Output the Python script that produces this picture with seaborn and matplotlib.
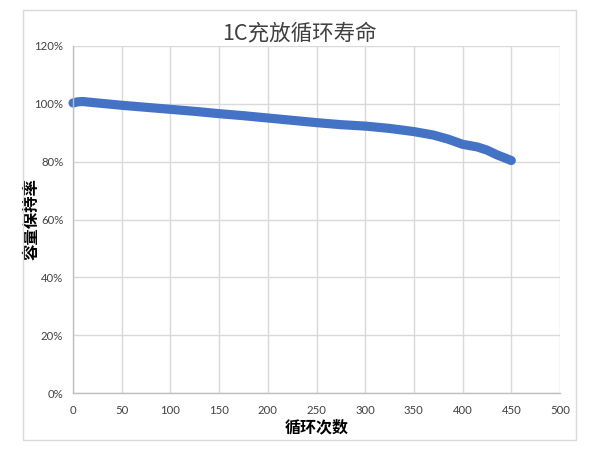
import matplotlib
matplotlib.use("Agg")
import matplotlib.pyplot as plt
import seaborn as sns
import pandas as pd
from matplotlib.patches import Rectangle
from matplotlib.ticker import FuncFormatter

cycles = [0, 5, 10, 25, 50, 75, 100, 125, 150, 175, 200, 225, 250, 275,
          300, 325, 350, 370, 385, 400, 415, 425, 435, 450]
retention = [100.3, 100.7, 100.8, 100.3, 99.5, 98.8, 98.1, 97.4, 96.6, 95.9,
             95.1, 94.3, 93.5, 92.8, 92.3, 91.5, 90.4, 89.2, 87.8, 86.0,
             85.1, 84.0, 82.4, 80.4]
x_ticks = [0, 50, 100, 150, 200, 250, 300, 350, 400, 450, 500]
y_ticks = [0, 20, 40, 60, 80, 100, 120]
title = "1C充放循环寿命"
x_label = "循环次数"
y_label = "容量保持率"

sns.set_theme(style="white")
plt.rcParams['font.family'] = ['Noto Sans CJK SC', 'DejaVu Sans']

df = pd.DataFrame({"cycle": cycles, "retention": retention})

fig = plt.figure(figsize=(6, 4.5), dpi=100)
ax = fig.add_axes([73/600, 1-393/450, (560-73)/600, (393-46)/450])

# outer chart frame
fig.patches.append(Rectangle((22.7/600, 1-440/450), (576-22.7)/600, (440-9.7)/450,
                             transform=fig.transFigure, fill=False,
                             edgecolor="#D9D9D9", linewidth=1.0))

sns.lineplot(data=df, x="cycle", y="retention", ax=ax, color="#4472C4",
             linewidth=6.6, solid_capstyle="round", solid_joinstyle="round")
for ln in ax.get_lines():
    ln.set_clip_on(False)

ax.set_xlim(0, 500)
ax.set_ylim(0, 120)
ax.set_xticks(x_ticks)
ax.set_yticks(y_ticks)
ax.yaxis.set_major_formatter(FuncFormatter(lambda v, p: f"{int(v)}%"))
ax.grid(True, color="#D9D9D9", linewidth=1.0)
ax.set_axisbelow(True)
for s in ["top", "right"]:
    ax.spines[s].set_visible(False)
for s in ["left", "bottom"]:
    ax.spines[s].set_color("#BFBFBF")
    ax.spines[s].set_linewidth(1.0)
ax.tick_params(axis="both", length=0, labelsize=8.2, colors="#404040")
ax.tick_params(axis="x", pad=9)
ax.tick_params(axis="y", pad=7)
for lab in ax.get_xticklabels() + ax.get_yticklabels():
    lab.set_family(["Lato", "DejaVu Sans"])

ax.set_xlabel(x_label, fontsize=11.5, fontweight="bold", color="#000000", labelpad=2)
ax.set_ylabel(y_label, fontsize=11.8, fontweight="bold", color="#000000")
ax.yaxis.set_label_coords((41-73)/487, 0.5)
fig.text(299/600, 1-33/450, title, ha="center", va="center", fontsize=15.5,
         color="#404040")

fig.savefig("out.png", dpi=100)
